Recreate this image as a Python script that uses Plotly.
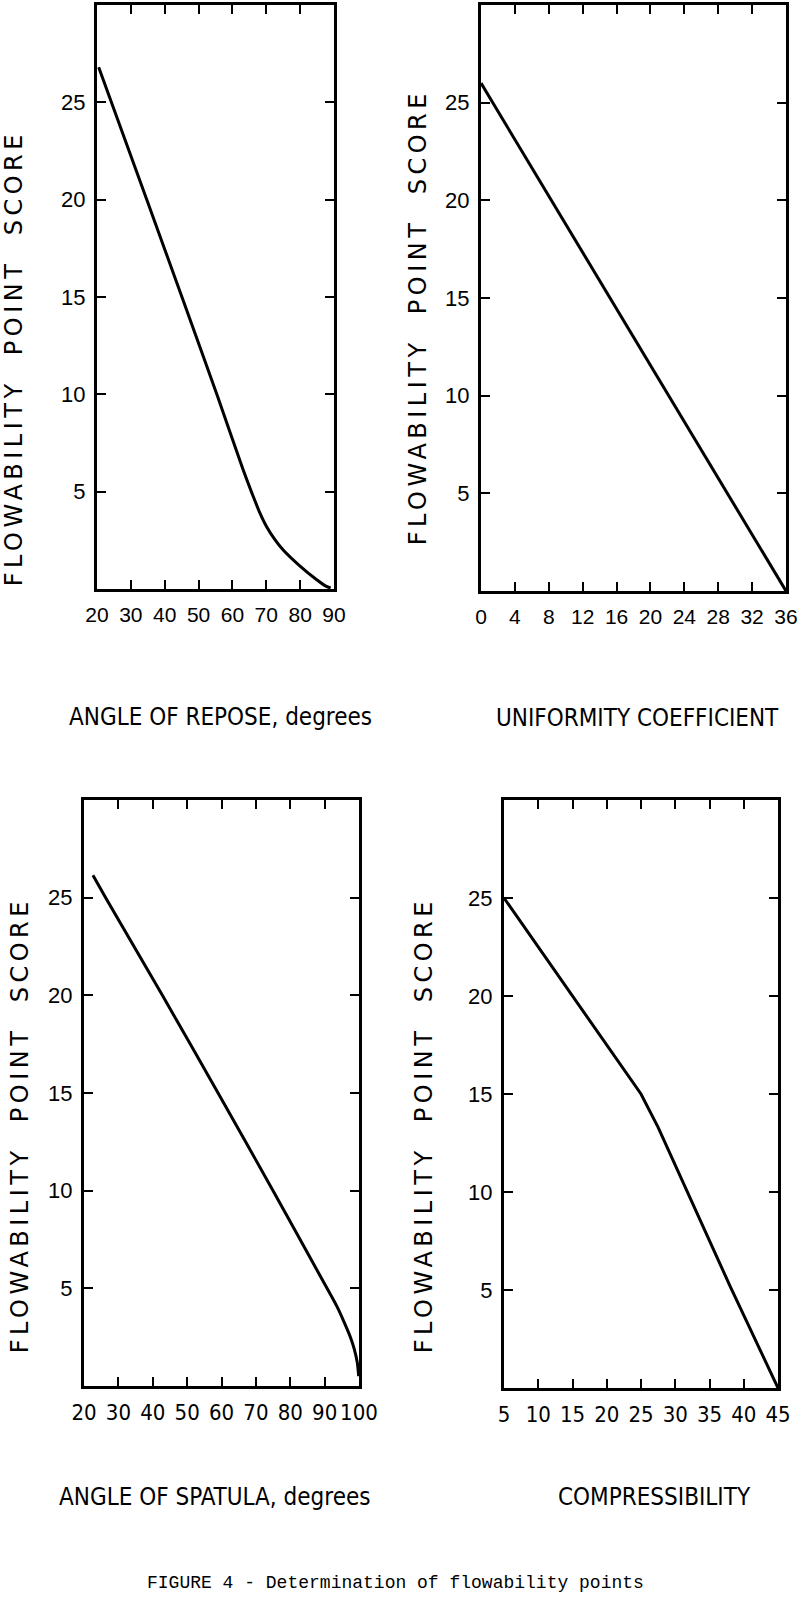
import plotly.graph_objects as go

# ---- data ----
repose_x = [20.5, 34.9, 45.3, 55.6, 63.0, 65.7, 68.0, 70.1, 72.5, 75.0, 79.8, 84.7, 87.6, 89.0]
repose_y = [26.8, 19.9, 14.9, 9.9, 6.2, 4.95, 3.95, 3.2, 2.55, 2.0, 1.2, 0.5, 0.15, 0.05]

unif_x = [0, 36]
unif_y = [26, 0]

spat_x = [22.6, 26.3, 42.8, 59.0, 75.0, 90.7, 93.5, 95.6, 97.5, 98.6, 99.5, 99.9]
spat_y = [26.15, 25.0, 20.0, 15.0, 10.0, 5.0, 4.1, 3.3, 2.5, 1.9, 1.2, 0.5]

comp_x = [5, 15, 25, 27.5, 32, 38, 45]
comp_y = [25, 20, 15, 13.3, 9.8, 5.2, 0]

score_ticks = [5, 10, 15, 20, 25]
repose_ticks = [20, 30, 40, 50, 60, 70, 80, 90]
unif_ticks = [0, 4, 8, 12, 16, 20, 24, 28, 32, 36]
spat_ticks = [20, 30, 40, 50, 60, 70, 80, 90, 100]
comp_ticks = [5, 10, 15, 20, 25, 30, 35, 40, 45]

y_title = "FLOWABILITY\u00a0 POINT\u00a0 SCORE"
x_titles = ["ANGLE OF REPOSE, degrees", "UNIFORMITY COEFFICIENT",
            "ANGLE OF SPATULA, degrees", "COMPRESSIBILITY"]
caption = "FIGURE 4 - Determination of flowability points"

# ---- layout geometry ----
W, H = 800, 1598
boxes = [  # left, right, top, bottom in pixels
    (97, 334, 5, 589),
    (481, 786, 5, 591),
    (84, 359, 800, 1386),
    (504, 778, 800, 1388),
]
xranges = [[20, 90], [0, 36], [20, 100], [5, 45]]
xticks = [repose_ticks, unif_ticks, spat_ticks, comp_ticks]
series = [(repose_x, repose_y, "spline"), (unif_x, unif_y, "linear"),
          (spat_x, spat_y, "spline"), (comp_x, comp_y, "linear")]

geo = "Liberation Sans, Arial, sans-serif"
narrow = "Liberation Sans Narrow, DejaVu Sans Condensed, Arial Narrow, sans-serif"
xtick_fonts = [dict(family=geo, size=21), dict(family=geo, size=21),
               dict(family=narrow, size=22), dict(family=narrow, size=22)]

fig = go.Figure()
layout = dict(width=W, height=H, margin=dict(l=0, r=0, t=0, b=0, autoexpand=False),
              paper_bgcolor="white", plot_bgcolor="white", showlegend=False,
              template="none")

for i, ((l, r, t, b), xr, xt, (sx, sy, shape), xf) in enumerate(
        zip(boxes, xranges, xticks, series, xtick_fonts), start=1):
    sfx = "" if i == 1 else str(i)
    fig.add_trace(go.Scatter(x=sx, y=sy, mode="lines",
                             line=dict(color="black", width=3, shape=shape, smoothing=0.8),
                             xaxis="x" + sfx, yaxis="y" + sfx, hoverinfo="skip"))
    layout["xaxis" + sfx] = dict(
        domain=[l / W, r / W], range=xr, anchor="y" + sfx, automargin=False,
        tickmode="array", tickvals=xt, ticktext=[str(v) for v in xt], tickangle=0,
        ticks="inside", ticklen=9, tickwidth=2, tickcolor="black",
        showline=True, linecolor="black", linewidth=3, mirror="ticks",
        showgrid=False, zeroline=False, tickfont=dict(color="black", **xf),
        ticklabelstandoff=5, fixedrange=True)
    layout["yaxis" + sfx] = dict(
        domain=[1 - b / H, 1 - t / H], range=[0, 30], anchor="x" + sfx, automargin=False,
        tickmode="array", tickvals=score_ticks, ticktext=[str(v) for v in score_ticks],
        ticks="inside", ticklen=9, tickwidth=2, tickcolor="black",
        showline=True, linecolor="black", linewidth=3, mirror="ticks",
        showgrid=False, zeroline=False,
        tickfont=dict(family=geo, size=22, color="black"),
        ticklabelstandoff=4, fixedrange=True)

annotations = []
ytitle_pos = [(14, 358), (418, 317), (20, 1125), (424, 1125)]
for (x, y) in ytitle_pos:
    annotations.append(dict(text=y_title, x=x / W, y=1 - y / H, xref="paper", yref="paper",
                            showarrow=False, textangle=-90, xanchor="center", yanchor="middle",
                            font=dict(family="DejaVu Sans, Verdana, sans-serif", size=24,
                                      color="black")))
xtitle_pos = [(220, 717), (637, 718), (214, 1497), (654, 1497)]
for txt, (x, y) in zip(x_titles, xtitle_pos):
    annotations.append(dict(text=txt, x=x / W, y=1 - y / H, xref="paper", yref="paper",
                            showarrow=False, xanchor="center", yanchor="middle",
                            font=dict(family=narrow, size=24, color="black")))
annotations.append(dict(text=caption, x=395 / W, y=1 - 1583 / H, xref="paper", yref="paper",
                        showarrow=False, xanchor="center", yanchor="middle",
                        font=dict(family="Liberation Mono, DejaVu Sans Mono, monospace",
                                  size=18, color="black")))
layout["annotations"] = annotations
fig.update_layout(**layout)

post = """
document.body.style.margin = '0';
document.body.style.overflow = 'hidden';
var gd = document.getElementById('{plot_id}');
gd.querySelectorAll('text.annotation-text').forEach(function(t){
  if (t.textContent.indexOf('FLOWABILITY') === 0) { t.style.letterSpacing = '4.5px'; }
});
"""
fig.write_html("out.html", post_script=post, config={"displayModeBar": False})
